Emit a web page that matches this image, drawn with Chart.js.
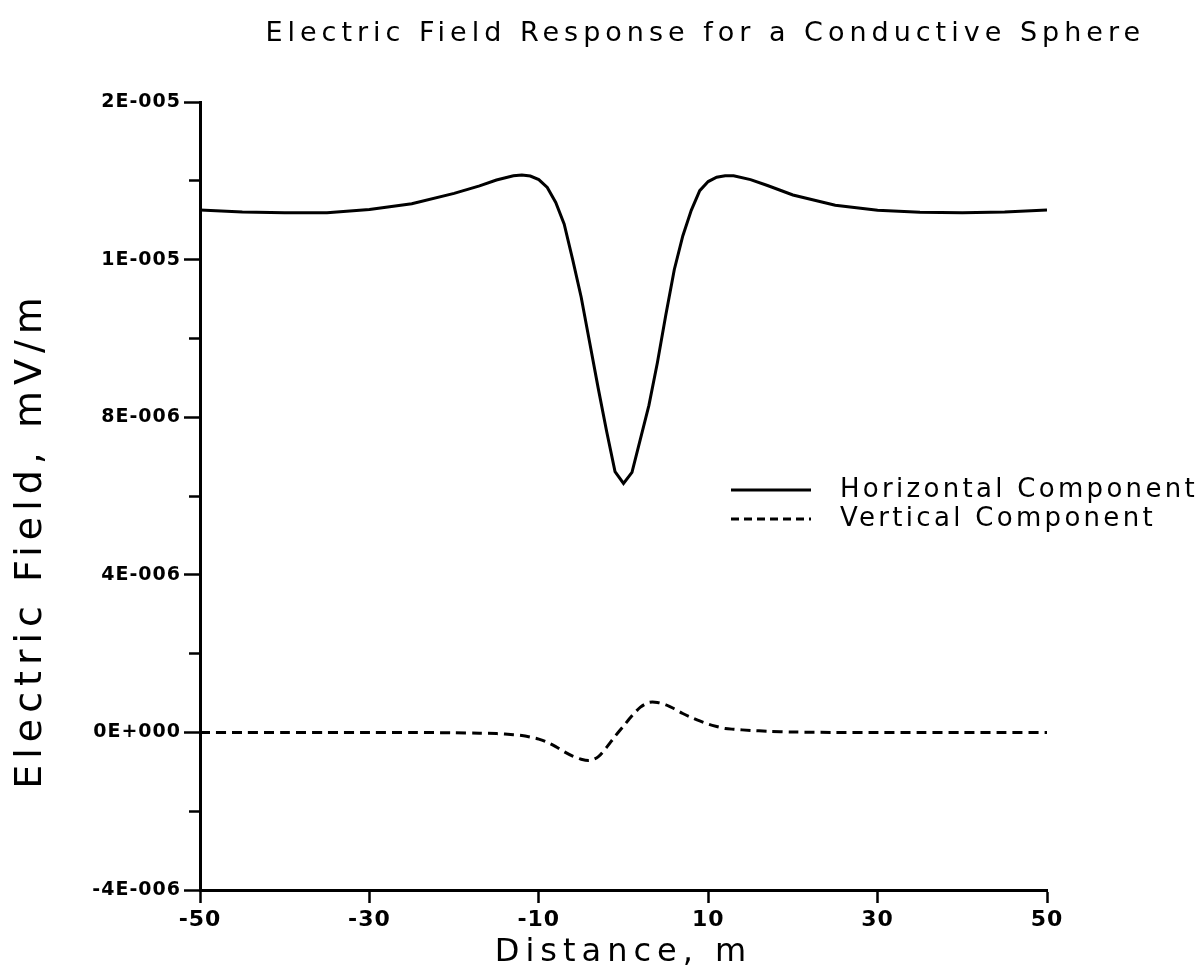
<!DOCTYPE html>
<html>
<head>
<meta charset="utf-8">
<title>Electric Field Response for a Conductive Sphere</title>
<script src="https://cdn.jsdelivr.net/npm/chart.js@4.4.1/dist/chart.umd.min.js"></script>
<style>
  html, body { margin: 0; padding: 0; background: #fff; }
  #wrap { width: 1203px; height: 977px; }
</style>
</head>
<body>
<div id="wrap"><canvas id="fieldChart"></canvas></div>
<script>
// distance along the profile, m
const distance = [-50, -45, -40, -35, -30, -25, -20, -17, -15, -13, -12, -11, -10, -9, -8, -7, -6, -5, -4, -3, -2, -1,
  0, 1, 2, 3, 4, 5, 6, 7, 8, 9, 10, 11, 12, 13, 15, 17, 20, 25, 30, 35, 40, 45, 50];

// field, in units of 1E-006 mV/m
const horizontalComp = [13.26, 13.21, 13.19, 13.19, 13.27, 13.42, 13.68, 13.87, 14.02, 14.13, 14.15, 14.12, 14.03, 13.83,
  13.45, 12.9, 12.0, 11.05, 9.9, 8.75, 7.65, 6.62, 6.32, 6.6, 7.45, 8.3, 9.38, 10.6, 11.75, 12.6, 13.25, 13.75, 13.98,
  14.09, 14.13, 14.13, 14.03, 13.88, 13.64, 13.38, 13.25, 13.2, 13.19, 13.21, 13.26];
const verticalComp = [0, 0, 0, 0, 0, 0, -0.01, -0.02, -0.03, -0.06, -0.08, -0.12, -0.17, -0.25, -0.36, -0.49, -0.6,
  -0.68, -0.71, -0.62, -0.38, -0.1, 0.16, 0.42, 0.64, 0.76, 0.76, 0.7, 0.6, 0.48, 0.38, 0.29, 0.21, 0.15, 0.1, 0.08,
  0.05, 0.03, 0.01, 0, 0, 0, 0, 0, 0];

const xTickValues = [-50, -30, -10, 10, 30, 50];
const yTickValues = [-4e-6, -2e-6, 0, 2e-6, 4e-6, 6e-6, 8e-6, 1e-5, 1.2e-5, 1.4e-5, 1.6e-5];
// labels as the original plotter printed them, blank = minor tick
const yTickLabels = ['-4E-006', '', '0E+000', '', '4E-006', '', '8E-006', '', '1E-005', '', '2E-005'];

const chartTitle = 'Electric Field Response for a Conductive Sphere';
const xTitle = 'Distance, m';
const yTitle = 'Electric Field, mV/m';

const toPoints = vals => distance.map((d, i) => ({ x: d, y: vals[i] * 1e-6 }));

// wide letter spacing like the plotter font
const spacedText = {
  id: 'spacedText',
  beforeDraw(chart) {
    const c = chart.ctx;
    if (c._spacedPatch) return;
    const plain = c.fillText;
    c.fillText = function (text, x, y, maxWidth) {
      const size = parseFloat((this.font.match(/([\d.]+)px/) || [0, 0])[1]);
      const prev = this.letterSpacing;
      this.letterSpacing = this._spacing || ((/bold/.test(this.font) ? 1 : Math.round(size * 0.2)) + 'px');
      if (maxWidth === undefined) plain.call(this, text, x, y);
      else plain.call(this, text, x, y, maxWidth);
      this.letterSpacing = prev;
    };
    c._spacedPatch = true;
  }
};

// legend inside the plot and the y axis title
const sideNotes = {
  id: 'sideNotes',
  afterDraw(chart) {
    const c = chart.ctx;
    c.save();
    c.fillStyle = '#000';
    c.strokeStyle = '#000';
    c.font = '26px "DejaVu Sans"';
    c.textBaseline = 'middle';
    c.textAlign = 'left';
    c._spacing = '3.3px';
    chart.data.datasets.forEach((ds, i) => {
      const y = 490 + i * 29;
      c.lineWidth = ds.borderWidth;
      c.setLineDash(ds.borderDash ? [8, 5] : []);
      c.beginPath();
      c.moveTo(731, y);
      c.lineTo(811, y);
      c.stroke();
      c.fillText(ds.label, 840, y);
    });
    c.setLineDash([]);
    c.font = '38px "DejaVu Sans"';
    c._spacing = '6px';
    c.translate(31, 540);
    c.rotate(-Math.PI / 2);
    c.textAlign = 'center';
    c.fillText(yTitle, 0, 0);
    c._spacing = null;
    c.restore();
  }
};

const ctx = document.getElementById('fieldChart').getContext('2d');

new Chart(ctx, {
  type: 'line',
  data: {
    datasets: [{
      label: 'Horizontal Component',
      data: toPoints(horizontalComp),
      borderColor: '#000',
      borderWidth: 3,
      pointRadius: 0,
      tension: 0,
      fill: false
    }, {
      label: 'Vertical Component',
      data: toPoints(verticalComp),
      borderColor: '#000',
      borderWidth: 3,
      borderDash: [10, 6],
      pointRadius: 0,
      tension: 0.3,
      fill: false
    }]
  },
  options: {
    responsive: true,
    maintainAspectRatio: false,
    animation: false,
    layout: { padding: { left: 0, right: 58, top: 0, bottom: 0 } },
    plugins: {
      legend: { display: false },
      tooltip: { enabled: false },
      title: {
        display: true,
        text: chartTitle,
        align: 'end',
        color: '#000',
        font: { family: 'DejaVu Sans', size: 27, weight: 'normal' },
        padding: { top: 18, bottom: 51.6 }
      }
    },
    scales: {
      x: {
        type: 'linear',
        min: -50,
        max: 50,
        afterBuildTicks: s => { s.ticks = xTickValues.map(v => ({ value: v })); },
        afterFit: s => { s.height = 87; s.paddingRight = 156; },
        border: { color: '#000', width: 3 },
        grid: { drawOnChartArea: false, tickLength: 13, tickWidth: 2.5, tickColor: '#000' },
        ticks: {
          autoSkip: false,
          maxRotation: 0,
          color: '#000',
          padding: 4,
          font: { family: 'DejaVu Sans', size: 22, weight: 'bold' }
        },
        title: {
          display: true,
          text: xTitle,
          color: '#000',
          font: { family: 'DejaVu Sans', size: 32, weight: 'normal' },
          padding: { top: 0, bottom: 5 }
        }
      },
      y: {
        min: -4e-6,
        max: 1.6e-5,
        afterBuildTicks: s => { s.ticks = yTickValues.map(v => ({ value: v })); },
        afterFit: s => { s.width = 200; },
        border: { color: '#000', width: 3 },
        grid: {
          drawOnChartArea: false,
          tickLength: 16,
          tickWidth: 2.5,
          tickColor: '#000',
          tickBorderDash: c => (yTickLabels[c.index] ? [] : [10, 100]),
          tickBorderDashOffset: c => (yTickLabels[c.index] ? 0 : 105)
        },
        ticks: {
          autoSkip: false,
          color: '#000',
          padding: 3,
          font: { family: 'DejaVu Sans', size: 19, weight: 'bold' },
          callback: (v, i) => yTickLabels[i]
        }
      }
    }
  },
  plugins: [spacedText, sideNotes]
});
</script>
</body>
</html>
